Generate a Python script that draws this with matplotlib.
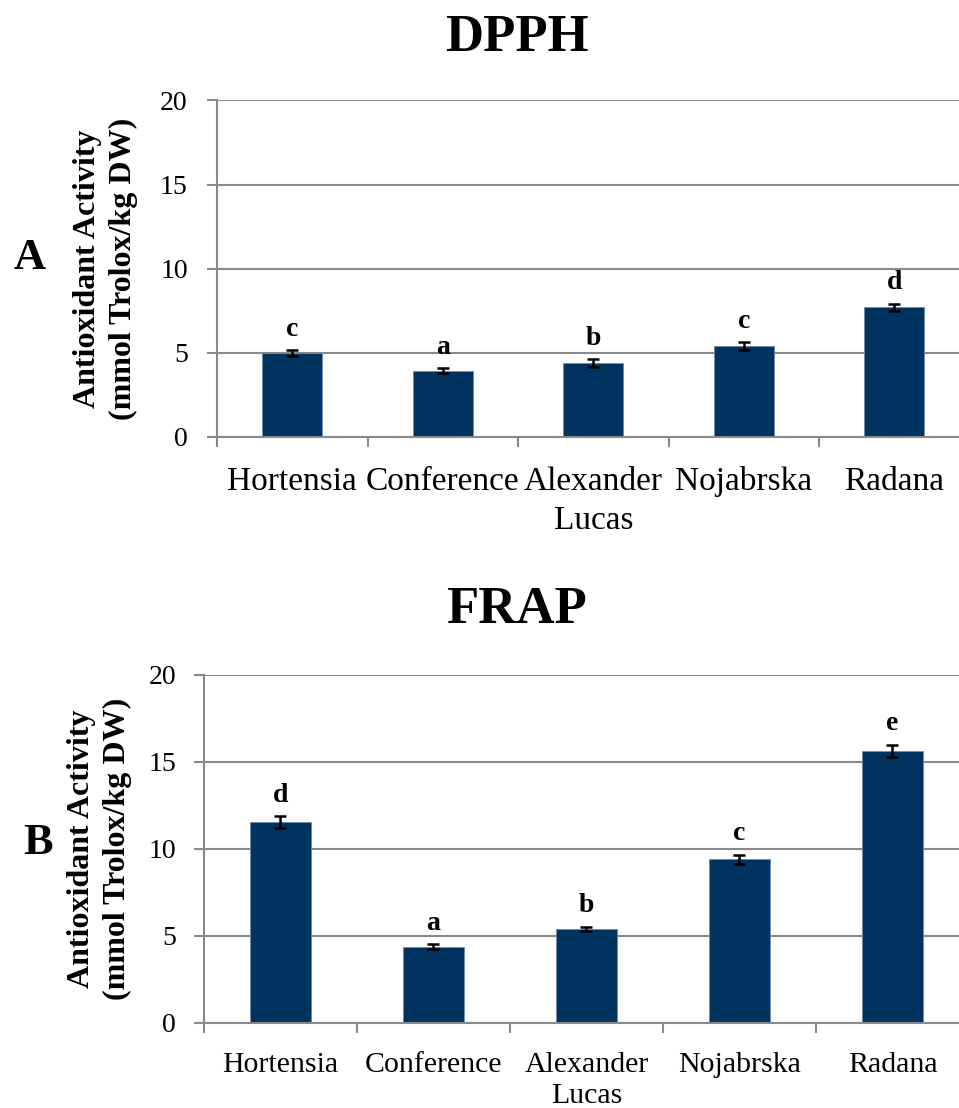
import matplotlib
matplotlib.use('Agg')
import matplotlib.pyplot as plt
import numpy as np

# cultivars and values
cultivars = ['Hortensia', 'Conference', 'Alexander\nLucas', 'Nojabrska', 'Radana']
dpph = [4.98, 3.95, 4.38, 5.40, 7.70]
dpph_err = [0.18, 0.13, 0.23, 0.23, 0.22]
dpph_letters = ['c', 'a', 'b', 'c', 'd']
frap = [11.52, 4.37, 5.39, 9.39, 15.63]
frap_err = [0.34, 0.13, 0.13, 0.27, 0.34]
frap_letters = ['d', 'a', 'b', 'c', 'e']

plt.rcParams['font.family'] = ['Liberation Serif', 'DejaVu Serif']

bar_color = '#003360'
grid_color = '#898989'

fig = plt.figure(figsize=(9.59, 11.08), dpi=100)


def panel(rect, vals, errs, letters, xfs, xpad, yfs, ypad, lfs, lpad, lsp):
    ax = fig.add_axes(rect)
    x = np.arange(len(vals))
    ax.bar(x, vals, width=0.4, color=bar_color, edgecolor='#6f8cab', linewidth=0.6, zorder=3)
    ax.errorbar(x, vals, yerr=errs, fmt='none', ecolor='black', elinewidth=1.8,
                capsize=4.5, capthick=1.8, zorder=4)
    for xi, v, e, t in zip(x, vals, errs, letters):
        ax.annotate(t, (xi, v + e), xytext=(0, 10.5), textcoords='offset points',
                    ha='center', va='baseline', fontsize=20, fontweight='bold')
    ax.set_xlim(-0.5, len(vals) - 0.5)
    ax.set_ylim(0, 20)
    ax.set_yticks([0, 5, 10, 15, 20])
    # boundary ticks as major, category names on minor ticks
    ax.set_xticks(np.arange(len(vals) + 1) - 0.5)
    ax.set_xticklabels([])
    ax.set_xticks(x, minor=True)
    ax.set_xticklabels(cultivars, minor=True, fontsize=xfs, linespacing=lsp)
    ax.tick_params(axis='x', which='minor', length=0, pad=xpad)
    ax.tick_params(axis='x', which='major', length=7, width=1.5, color=grid_color)
    ax.tick_params(axis='y', length=7, width=1.5, color=grid_color, labelsize=yfs, pad=ypad)
    ax.yaxis.grid(True, color=grid_color, linewidth=1.5, zorder=0)
    ax.set_axisbelow(True)
    for s in ['top', 'right']:
        ax.spines[s].set_visible(False)
    for s in ['left', 'bottom']:
        ax.spines[s].set_color(grid_color)
        ax.spines[s].set_linewidth(1.5)
        ax.spines[s].set_zorder(5)
    ax.set_ylabel('Antioxidant Activity\n(mmol Trolox/kg DW)', fontsize=lfs, fontweight='bold',
                  linespacing=1.3, labelpad=lpad)
    return ax


axA = panel([0.2263, 0.6056, 0.7847, 0.3037], dpph, dpph_err, dpph_letters,
            24, 21, 20, 14, 23, 16, 1.37)
axB = panel([0.2127, 0.0770, 0.7977, 0.3141], frap, frap_err, frap_letters,
            21.5, 21, 20, 13, 23, 12, 1.25)

fig.text(0.539, 0.9657, 'DPPH', ha='center', va='center', fontsize=38, fontweight='bold')
fig.text(0.538, 0.4495, 'FRAP', ha='center', va='center', fontsize=38, fontweight='bold')
fig.text(0.031, 0.767, 'A', ha='center', va='center', fontsize=32, fontweight='bold')
fig.text(0.040, 0.239, 'B', ha='center', va='center', fontsize=32, fontweight='bold')

plt.savefig('out.png', dpi=100)
